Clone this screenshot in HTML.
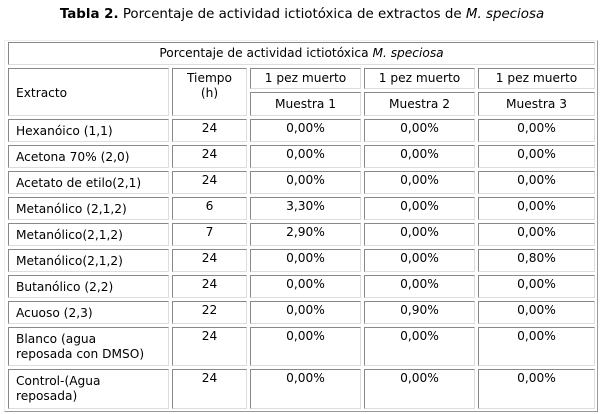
<!DOCTYPE html>
<html><head><meta charset="utf-8"><style>
body{margin:0;width:604px;height:414px;background:#fff;font-family:"DejaVu Sans","Liberation Sans",sans-serif;font-size:12.2px;color:#000;position:relative;overflow:hidden}
.t{position:absolute;left:0;width:604px;top:7px;text-align:center;font-size:13.4px}
.o{position:absolute;left:4px;top:40px;width:594px;height:372px;box-sizing:border-box;border:1px solid;border-color:#eee #999 #999 #eee}
.c{position:absolute;box-sizing:border-box;border:1px solid;border-color:#888 #ddd #ddd #888;padding:2px 0 0 0;line-height:15px;text-align:center}
.l{text-align:left;padding-left:7px}
.m{display:flex;align-items:center}
</style></head><body>
<div class="t"><b>Tabla 2.</b> Porcentaje de actividad ictiotóxica de extractos de <i>M. speciosa</i></div>
<div class="o"></div>
<div class="c" style="left:8px;top:42px;width:587px;height:23px;padding-top:3px">Porcentaje de actividad ictiotóxica <i>M. speciosa</i></div>
<div class="c l m" style="left:8px;top:68px;width:161px;height:48px">Extracto</div>
<div class="c" style="left:172px;top:68px;width:75px;height:48px">Tiempo<br>(h)</div>
<div class="c" style="left:250px;top:68px;width:111px;height:21px">1 pez muerto</div>
<div class="c" style="left:364px;top:68px;width:111px;height:21px">1 pez muerto</div>
<div class="c" style="left:478px;top:68px;width:117px;height:21px">1 pez muerto</div>
<div class="c" style="left:250px;top:92px;width:111px;height:24px;padding-top:4px">Muestra 1</div>
<div class="c" style="left:364px;top:92px;width:111px;height:24px;padding-top:4px">Muestra 2</div>
<div class="c" style="left:478px;top:92px;width:117px;height:24px;padding-top:4px">Muestra 3</div>
<div id="rows"></div>
<script>
var d=[["Hexanóico (1,1)","24","0,00%","0,00%","0,00%"],["Acetona 70% (2,0)","24","0,00%","0,00%","0,00%"],["Acetato de etilo(2,1)","24","0,00%","0,00%","0,00%"],["Metanólico (2,1,2)","6","3,30%","0,00%","0,00%"],["Metanólico(2,1,2)","7","2,90%","0,00%","0,00%"],["Metanólico(2,1,2)","24","0,00%","0,00%","0,80%"],["Butanólico (2,2)","24","0,00%","0,00%","0,00%"],["Acuoso (2,3)","22","0,00%","0,90%","0,00%"],["Blanco (agua<br>reposada con DMSO)","24","0,00%","0,00%","0,00%"],["Control-(Agua<br>reposada)","24","0,00%","0,00%","0,00%"]];
var xs=[[8,161],[172,75],[250,111],[364,111],[478,117]];
var tops=[119,145,171,197,223,249,275,301,327,369],hs=[23,23,23,23,23,23,23,23,39,40];
var h="";
d.forEach(function(r,i){r.forEach(function(v,j){
h+='<div class="c'+(j==0?' l':'')+'" style="left:'+xs[j][0]+'px;top:'+tops[i]+'px;width:'+xs[j][1]+'px;height:'+hs[i]+'px;padding-top:'+(j==0?4:1)+'px">'+v+'</div>';});});
document.getElementById("rows").innerHTML=h;
</script>
</body></html>
